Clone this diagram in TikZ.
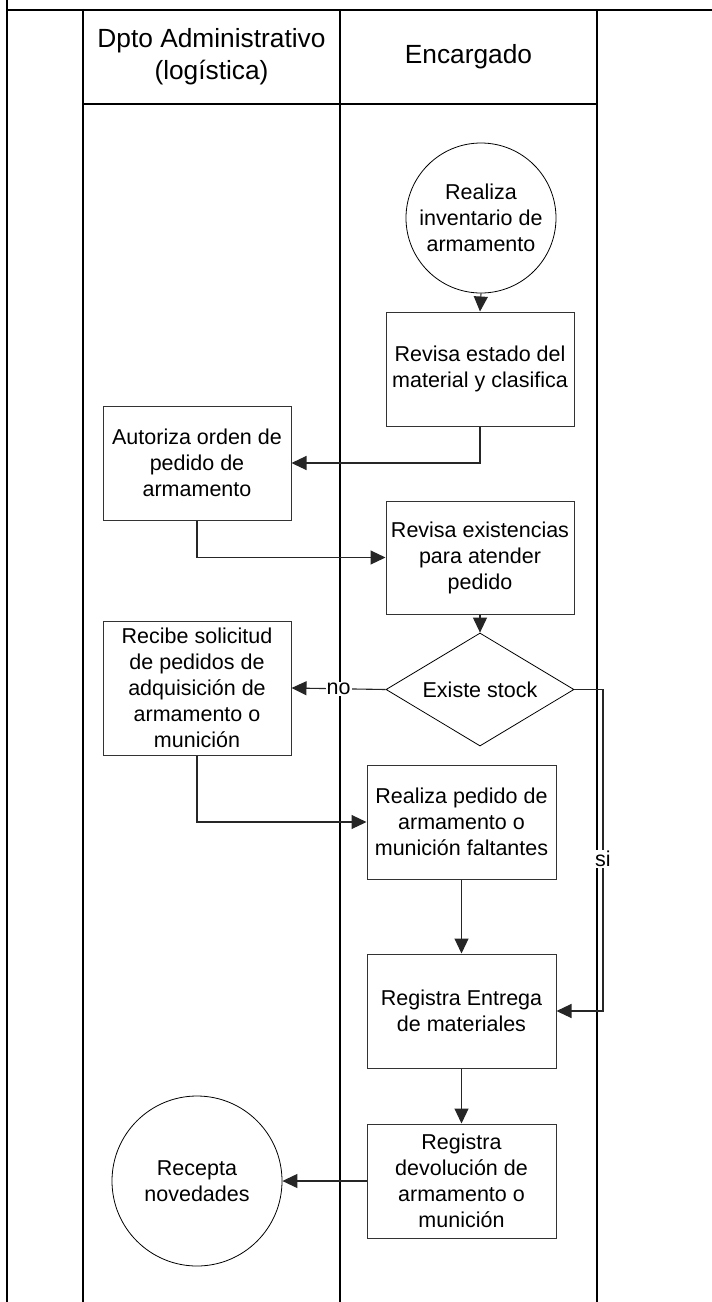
\documentclass[tikz,border=0pt]{standalone}
\usepackage{fontspec}
\setmainfont{Liberation Sans}
\usetikzlibrary{arrows.meta,shapes.geometric}

\tikzset{
  lane/.style={draw=black, line width=1.3pt},
  stepbox/.style={draw=black!80, line width=1pt, rectangle, inner sep=0pt,
    align=center, font=\fontsize{21.5}{26}\selectfont},
  roundnode/.style={draw=black, line width=0.8pt, circle, inner sep=0pt,
    align=center, font=\fontsize{21.5}{26}\selectfont},
  decision/.style={draw=black, line width=0.8pt, diamond, aspect=1.66, inner sep=0pt,
    minimum width=188pt, minimum height=113pt, align=center,
    font=\fontsize{21.5}{26}\selectfont},
  conn/.style={draw=black!85, line width=1.1pt,
    -{Triangle[length=15pt,width=14pt]}},
  lbl/.style={fill=white, inner sep=1pt, font=\fontsize{21.5}{26}\selectfont},
  header/.style={align=center, font=\fontsize{26.3}{32}\selectfont}
}

\begin{document}
\begin{tikzpicture}[x=1pt, y=-1pt]
  % page frame
  \fill[white] (0,0) rectangle (712,1302);
  \useasboundingbox (0,0) rectangle (712,1302);

  % pool border and swimlanes
  \draw[lane] (7,0) -- (7,1302);
  \draw[lane] (7,10) -- (712,10);
  \draw[lane] (83,10) -- (83,1302);
  \draw[lane] (340,10) -- (340,1302);
  \draw[lane] (597,10) -- (597,1302);
  \draw[lane] (83,104) -- (597,104);

  % lane titles
  \node[header] (hdrA) at (211.5,57) {Dpto Administrativo\\(logística)};
  \node[header] (hdrB) at (468.5,57) {Encargado};

  % process steps
  \node[roundnode, minimum size=150pt] (n1) at (481,218)
    {Realiza\\inventario de\\armamento};
  \node[stepbox, minimum width=188pt, minimum height=114pt] (n2) at (480,369)
    {Revisa estado del\\material y clasifica};
  \node[stepbox, minimum width=188pt, minimum height=114pt] (n3) at (197,463)
    {Autoriza orden de\\pedido de\\armamento};
  \node[stepbox, minimum width=188pt, minimum height=113pt] (n4) at (480,557.5)
    {Revisa existencias\\para atender\\pedido};
  \node[decision] (n5) at (480,689.5) {Existe stock};
  \node[stepbox, minimum width=188pt, minimum height=134pt] (n6) at (197,688)
    {Recibe solicitud\\de pedidos de\\adquisición de\\armamento o\\munición};
  \node[stepbox, minimum width=189pt, minimum height=114pt] (n7) at (461.5,822)
    {Realiza pedido de\\armamento o\\munición faltantes};
  \node[stepbox, minimum width=189pt, minimum height=114pt] (n8) at (461.5,1011)
    {Registra Entrega\\de materiales};
  \node[stepbox, minimum width=189pt, minimum height=114pt] (n9) at (461.5,1181)
    {Registra\\devolución de\\armamento o\\munición};
  \node[roundnode, minimum size=170pt] (n10) at (197,1181)
    {Recepta\\novedades};

  % flow
  \coordinate (sibend) at (603,689.5);
  \draw[conn] (n1.south) -- (n2.north);
  \draw[conn] (n2.south) |- (n3.east);
  \draw[conn] (n3.south) |- (n4.west);
  \draw[conn] (n4.south) -- (n5.north);
  \draw[conn] (n5.west) -- node[lbl] {no} (n6.east);
  \draw[conn] (n6.south) |- (n7.west);
  \draw[conn] (n7.south) -- (n8.north);
  \draw[conn] (n5.east) -- (sibend) |- node[lbl, pos=0.264] {si} (n8.east);
  \draw[conn] (n8.south) -- (n9.north);
  \draw[conn] (n9.west) -- (n10.east);
\end{tikzpicture}
\end{document}
